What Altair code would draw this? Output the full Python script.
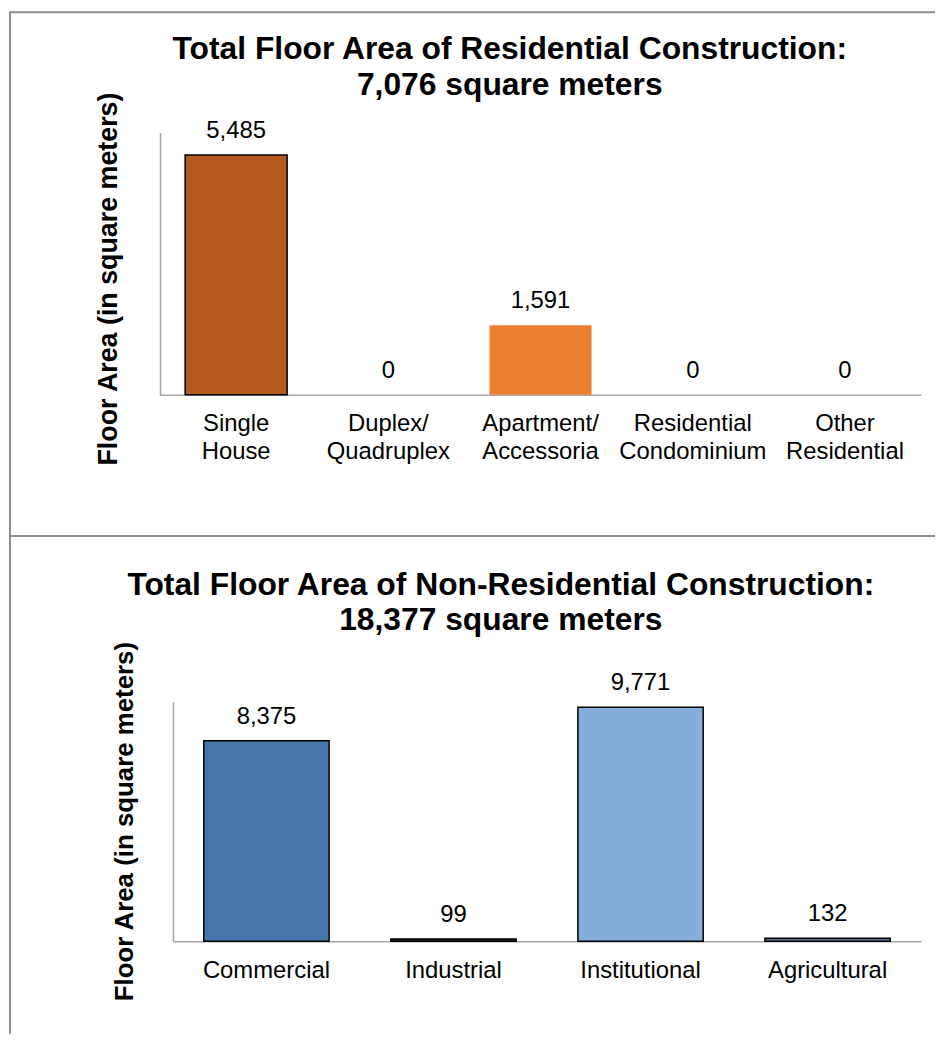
import altair as alt
import pandas as pd

FONT = "Liberation Sans"
AXIS = "#A6A6A6"
FRAME = "#8C8C8C"

Y_TITLE = "Floor Area (in square meters)"

res_title = ["Total Floor Area of Residential Construction:", "7,076 square meters"]
res_cats = ["Single|House", "Duplex/|Quadruplex", "Apartment/|Accessoria",
            "Residential|Condominium", "Other|Residential"]
res_vals = [5485, 0, 1591, 0, 0]
res_colors = ["#B35B21", "#7F7F7F", "#ED7D31", "#A5A5A5", "#FFC000"]

non_title = ["Total Floor Area of Non-Residential Construction:", "18,377 square meters"]
non_cats = ["Commercial", "Industrial", "Institutional", "Agricultural"]
non_vals = [8375, 99, 9771, 132]
non_colors = ["#4677A8", "#1F2A36", "#86AEDB", "#5B7290"]

one = pd.DataFrame({"k": [0]})


def rule(**enc):
    return alt.Chart(one).mark_rule(color=FRAME, strokeWidth=2).encode(
        **{k: alt.value(v) for k, v in enc.items()})


def panel(cats, vals, colors, title, ymax, width, height, xrange, axis_off,
          ytx, yty, ytsize, tdx, toff, label_pad, no_outline, extras):
    df = pd.DataFrame({"category": cats, "value": vals})
    x = alt.X(
        "category:N", sort=cats, title=None,
        scale=alt.Scale(domain=cats, range=xrange, paddingInner=0.33, paddingOuter=0.165),
        axis=alt.Axis(labelExpr="split(datum.label, '|')", labelAngle=0, labelFont=FONT,
                      labelFontSize=24, labelColor="black", labelPadding=label_pad,
                      labelLineHeight=28, labelBaseline="top", ticks=False, tickSize=0,
                      domainColor=AXIS, domainWidth=1.5, grid=False),
    )
    y = alt.Y(
        "value:Q",
        scale=alt.Scale(domain=[0, ymax], nice=False),
        axis=alt.Axis(title=Y_TITLE, labels=False, ticks=False, tickSize=0, grid=False,
                      domainColor=AXIS, domainWidth=1.5, offset=axis_off,
                      titleFont=FONT, titleFontSize=ytsize, titleFontWeight="bold",
                      titleColor="black", titleAngle=270, titleAlign="center",
                      titleBaseline="middle", titleX=ytx, titleY=yty),
    )
    test = "datum.value == 0"
    for c in no_outline:
        test += " || datum.category == '" + c + "'"
    base = alt.Chart(df)
    bars = base.mark_bar(stroke="black").encode(
        x=x, y=y,
        color=alt.Color("category:N", scale=alt.Scale(domain=cats, range=colors), legend=None),
        strokeWidth=alt.condition(test, alt.value(0), alt.value(1.5)),
    )
    labels = base.mark_text(font=FONT, fontSize=24, dy=-17, baseline="alphabetic",
                            color="black").encode(
        x=x, y=y, text=alt.Text("value:Q", format=","))
    return alt.layer(bars, labels, *extras).properties(
        width=width, height=height,
        title=alt.TitleParams(text=title, font=FONT, fontSize=32, fontWeight="bold",
                              color="black", anchor="middle", frame="group",
                              baseline="alphabetic", lineHeight=36, dx=tdx, offset=toff),
    )


top_frame = [
    rule(x=-151, y=-121, y2=907),
    rule(x=-152, x2=780, y=-121),
]
bottom_frame = [
    rule(x=-152, x2=780, y=-167),
]

top = panel(res_cats, res_vals, res_colors, res_title, 6000, 766, 264, [0, 766], 0,
            -52, 147, 27, -31, -116, 17, ["Apartment/|Accessoria"], top_frame)
bottom = panel(non_cats, non_vals, non_colors, non_title, 10000, 766, 241, [13, 766], -13,
               -49, 120, 26, -40, -128, 17, [], bottom_frame)

chart = alt.vconcat(top, bottom, spacing=309, bounds="flush").resolve_scale(
    color="independent"
).properties(
    padding=0, background="white"
).configure_view(strokeWidth=0)

chart.save("out.html", embed_options={"renderer": "svg", "actions": False})
